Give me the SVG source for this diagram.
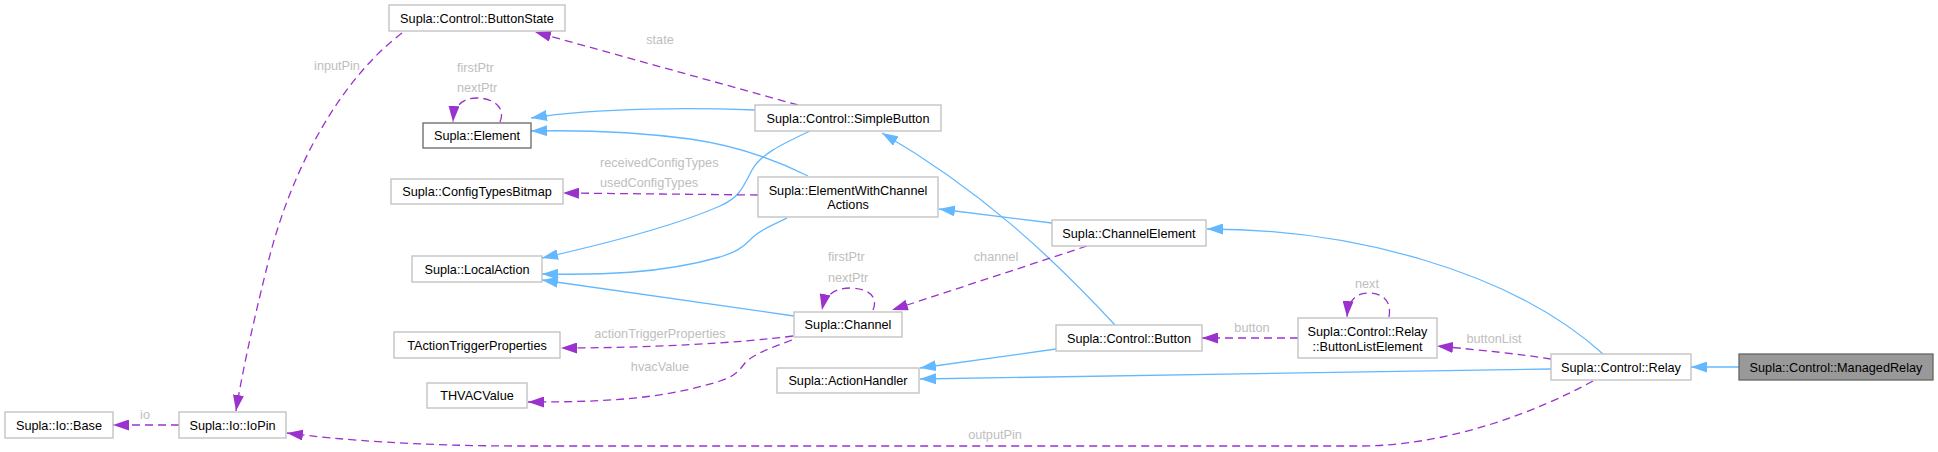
<svg xmlns="http://www.w3.org/2000/svg" width="1938" height="452" viewBox="0 0 1938 452">
<style>
.n rect{fill:#ffffff;stroke:#bfbfbf;stroke-width:1.3}
.n text{font-family:"Liberation Sans",Arial,Helvetica,sans-serif;font-size:12.7px;fill:#000000;text-anchor:middle}
.dark rect{stroke:#666666}
.cur rect{fill:#999999;stroke:#666666}
.inh{fill:none;stroke:#63b8ff;stroke-width:1.3;marker-end:url(#ab)}
.use{fill:none;stroke:#9a32cd;stroke-width:1.3;stroke-dasharray:8,5;marker-end:url(#ap)}
.lbl{font-family:"Liberation Sans",Arial,Helvetica,sans-serif;font-size:12.7px;fill:#bebebe;text-anchor:middle}
.lbl.l{text-anchor:start}
</style>
<defs>
<marker id="ab" markerUnits="userSpaceOnUse" markerWidth="16" markerHeight="11" viewBox="0 0 16 11" refX="16" refY="5.5" orient="auto"><path d="M0,0 L16,5.5 L0,11 z" fill="#63b8ff"/></marker>
<marker id="ap" markerUnits="userSpaceOnUse" markerWidth="16" markerHeight="11" viewBox="0 0 16 11" refX="16" refY="5.5" orient="auto"><path d="M0,0 L16,5.5 L0,11 z" fill="#9a32cd"/></marker>
</defs>
<rect width="1938" height="452" fill="#ffffff"/>
<g id="edges">
<path class="inh" d="M755,110 C700,108 600,107 531,118"/>
<path class="inh" d="M808,176 C780,162 740,146 690,139 C630,131 580,130 531,131"/>
<path class="inh" d="M810,131 C780,145 760,155 752,170 C742,190 738,198 720,206 C670,228 600,245 542,258"/>
<path class="inh" d="M787,218 C770,226 757,232 750,240 C742,248 736,252 720,257 C660,274 600,275 542,274"/>
<path class="inh" d="M794,316 L542,280"/>
<path class="inh" d="M1052,223 L939,209"/>
<path class="inh" d="M1115,325 C1050,255 980,190 882,133"/>
<path class="inh" d="M1056,349 L920,368"/>
<path class="inh" d="M1551,369 L920,379"/>
<path class="inh" d="M1603,354 C1510,270 1350,229 1207,229"/>
<path class="inh" d="M1739,367 L1691,367"/>
<path class="use" d="M798,105 L535,32"/>
<path class="use" d="M402,33 C340,80 290,170 267,267 C250,335 240,385 236,411"/>
<path class="use" d="M179,425 L113,425"/>
<path class="use" d="M1593,381 C1540,410 1450,446 1360,446 L520,446 C420,446 340,440 287,433"/>
<path class="use" d="M758,195 L563,193"/>
<path class="use" d="M1087,246 L892,310"/>
<path class="use" d="M793,336 C740,343 650,348 561,348"/>
<path class="use" d="M792,340 C770,348 752,355 745,363 C738,372 735,376 720,381 C660,400 600,402 528,402"/>
<path class="use" d="M500,122 C506,108 494,98 477,98 C462,98 454,106 453,122"/>
<path class="use" d="M873,310 C879,296 867,288 850,288 C835,288 825,295 822,310"/>
<path class="use" d="M1298,338 L1202,338"/>
<path class="use" d="M1389,317 C1392,300 1382,293 1368,293 C1355,293 1348,302 1347,317"/>
<path class="use" d="M1551,359 C1520,354 1480,350 1437,346"/>
<text class="lbl" x="660" y="44">state</text>
<text class="lbl" x="337" y="70">inputPin</text>
<text class="lbl" x="145" y="419">io</text>
<text class="lbl" x="995" y="439">outputPin</text>
<text class="lbl l" x="600" y="166.5">receivedConfigTypes</text>
<text class="lbl l" x="600" y="187">usedConfigTypes</text>
<text class="lbl l" x="457" y="72">firstPtr</text>
<text class="lbl l" x="457" y="92">nextPtr</text>
<text class="lbl l" x="828" y="261">firstPtr</text>
<text class="lbl l" x="828" y="281.5">nextPtr</text>
<text class="lbl" x="996" y="261">channel</text>
<text class="lbl" x="660" y="337.5">actionTriggerProperties</text>
<text class="lbl" x="660" y="371">hvacValue</text>
<text class="lbl" x="1252" y="331.5">button</text>
<text class="lbl" x="1367" y="287.5">next</text>
<text class="lbl" x="1494" y="342.5">buttonList</text>
</g>
<g id="n_buttonstate" class="n"><rect x="389" y="5" width="176" height="26"/><text x="477" y="22.5">Supla::Control::ButtonState</text></g>
<g id="n_element" class="n dark"><rect x="423" y="123" width="108" height="25"/><text x="477" y="140">Supla::Element</text></g>
<g id="n_configtypesbitmap" class="n"><rect x="391" y="179" width="172" height="25"/><text x="477" y="196">Supla::ConfigTypesBitmap</text></g>
<g id="n_localaction" class="n"><rect x="412" y="256" width="130" height="26"/><text x="477" y="273.5">Supla::LocalAction</text></g>
<g id="n_tactiontrigger" class="n"><rect x="394" y="332" width="166" height="26"/><text x="477" y="349.5">TActionTriggerProperties</text></g>
<g id="n_thvacvalue" class="n"><rect x="427" y="383" width="100" height="25"/><text x="477" y="400">THVACValue</text></g>
<g id="n_iobase" class="n"><rect x="5" y="412" width="108" height="26"/><text x="59" y="429.5">Supla::Io::Base</text></g>
<g id="n_iopin" class="n"><rect x="179" y="412" width="107" height="26"/><text x="232.5" y="429.5">Supla::Io::IoPin</text></g>
<g id="n_simplebutton" class="n"><rect x="755" y="105" width="186" height="26"/><text x="848" y="122.5">Supla::Control::SimpleButton</text></g>
<g id="n_ewca" class="n"><rect x="758" y="177" width="180" height="40"/><text x="848" y="194.5">Supla::ElementWithChannel</text><text x="848" y="209">Actions</text></g>
<g id="n_channel" class="n"><rect x="794" y="312" width="108" height="25"/><text x="848" y="329">Supla::Channel</text></g>
<g id="n_actionhandler" class="n"><rect x="777" y="368" width="142" height="25"/><text x="848" y="385">Supla::ActionHandler</text></g>
<g id="n_channelelement" class="n"><rect x="1052" y="220" width="154" height="26"/><text x="1129" y="237.5">Supla::ChannelElement</text></g>
<g id="n_button" class="n"><rect x="1056" y="325" width="146" height="26"/><text x="1129" y="342.5">Supla::Control::Button</text></g>
<g id="n_buttonlistelement" class="n"><rect x="1298" y="318" width="139" height="40"/><text x="1367.5" y="335.5">Supla::Control::Relay</text><text x="1367.5" y="350.5">::ButtonListElement</text></g>
<g id="n_relay" class="n"><rect x="1551" y="354" width="140" height="26"/><text x="1621" y="371.5">Supla::Control::Relay</text></g>
<g id="n_managedrelay" class="n cur"><rect x="1739" y="354" width="194" height="26"/><text x="1836" y="371.5">Supla::Control::ManagedRelay</text></g>
</svg>
